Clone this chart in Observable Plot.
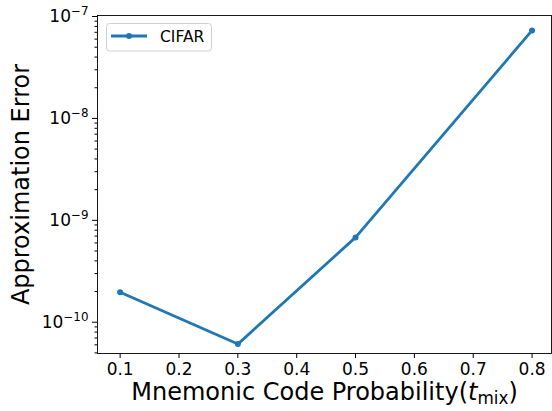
<!DOCTYPE html>
<html>
<head>
<meta charset="utf-8">
<script src="https://cdn.jsdelivr.net/npm/d3@7"></script>
<script src="https://cdn.jsdelivr.net/npm/@observablehq/plot@0.6"></script>
<style>
  html, body { margin: 0; padding: 0; background: #fff; }
  #chart svg { font-family: "DejaVu Sans", sans-serif; }
</style>
</head>
<body>
<div id="chart"></div>
<script>
// Data
const tmix = [0.1, 0.3, 0.5, 0.8];
const approxError = [1.97e-10, 6.1e-11, 6.8e-10, 7.3e-8];
const seriesName = "CIFAR";
const xTicks = [0.1, 0.2, 0.3, 0.4, 0.5, 0.6, 0.7, 0.8];
const yMajorTicks = [1e-10, 1e-9, 1e-8, 1e-7];
const xTitle = "Mnemonic Code Probability";
const yTitle = "Approximation Error";

const data = tmix.map((x, i) => ({x, y: approxError[i]}));

// minor log ticks (axis decoration)
const yMinorTicks = [];
for (let e = -11; e <= -7; e++) for (let m = 2; m <= 9; m++) {
  const v = m * Math.pow(10, e);
  if (v > Math.pow(10, -10.307) && v < Math.pow(10, -6.99)) yMinorTicks.push(v);
}

const color = "#1f77b4";

const plot = Plot.plot({
  width: 552,
  height: 411,
  marginLeft: 97,
  marginRight: 1,
  marginTop: 15,
  marginBottom: 58,
  style: {fontFamily: "DejaVu Sans, sans-serif", fontSize: "17px", color: "#000", background: "#fff"},
  x: {domain: [0.0615, 0.833]},
  y: {type: "log", domain: [Math.pow(10, -10.307), Math.pow(10, -6.99)]},
  marks: [
    Plot.axisX({ticks: xTicks, tickSize: 5, tickPadding: 4, tickFormat: d3.format(".1f"),
      label: xTitle, labelAnchor: "center", labelOffset: 46}),
    Plot.axisY({ticks: yMajorTicks, tickSize: 5, tickPadding: 4,
      tickFormat: d => "10^" + "\u2212" + Math.round(-Math.log10(d)),
      label: yTitle, labelAnchor: "center", labelOffset: 86}),
    Plot.axisY({ticks: yMinorTicks, tickSize: 2.5, tickFormat: () => "", label: null}),
    Plot.frame({stroke: "#000", strokeWidth: 0.9}),
    Plot.line(data, {x: "x", y: "y", stroke: color, strokeWidth: 2.8}),
    Plot.dot(data, {x: "x", y: "y", fill: color, r: 3})
  ]
});

document.getElementById("chart").appendChild(plot);

const ns = "http://www.w3.org/2000/svg";
const svg = plot.tagName === "svg" ? plot : plot.querySelector("svg");

// tick label sizes
svg.querySelectorAll('g[aria-label="x-axis tick label"], g[aria-label="y-axis tick label"]').forEach(g => {
  g.setAttribute("font-size", "17px");
  g.style.fontSize = "17px";
});

// superscript y tick labels
svg.querySelectorAll('g[aria-label="y-axis tick label"] text').forEach(t => {
  const parts = t.textContent.split("^");
  if (parts.length < 2) return;
  t.textContent = parts[0];
  const ts = document.createElementNS(ns, "tspan");
  ts.setAttribute("dy", "-0.55em");
  ts.setAttribute("font-size", "0.7em");
  ts.textContent = parts[1];
  t.appendChild(ts);
});

// axis titles
svg.querySelectorAll('g[aria-label="x-axis label"]').forEach(g => { g.setAttribute("font-size", "24px"); g.style.fontSize = "24px"; });
svg.querySelectorAll('g[aria-label="y-axis label"]').forEach(g => { g.setAttribute("font-size", "24px"); g.style.fontSize = "24px"; });
svg.querySelectorAll('g[aria-label="x-axis label"] text').forEach(t => {
  t.textContent = xTitle + "(";
  const it = document.createElementNS(ns, "tspan");
  it.setAttribute("font-style", "italic");
  it.textContent = "t";
  t.appendChild(it);
  const sub = document.createElementNS(ns, "tspan");
  sub.setAttribute("font-size", "0.7em");
  sub.setAttribute("dy", "0.25em");
  sub.textContent = "mix";
  t.appendChild(sub);
  const cl = document.createElementNS(ns, "tspan");
  cl.setAttribute("dy", "-0.175em");
  cl.textContent = ")";
  t.appendChild(cl);
});
svg.querySelectorAll('g[aria-label="y-axis label"] text').forEach(t => {
  t.textContent = yTitle;
});

// legend (inside plot, upper left)
const lg = document.createElementNS(ns, "g");
lg.setAttribute("aria-label", "legend");
lg.innerHTML = `
  <rect x="106.5" y="23.5" width="105" height="27.5" rx="3" ry="3" fill="#fff" fill-opacity="0.8" stroke="#d0d0d0" stroke-width="1"></rect>
  <line x1="111" y1="36" x2="147" y2="36" stroke="${color}" stroke-width="2.8"></line>
  <circle cx="129" cy="36" r="3" fill="${color}"></circle>
  <text x="160" y="41.5" font-size="15.5px" text-anchor="start" fill="#000">${seriesName}</text>`;
svg.appendChild(lg);
</script>
</body>
</html>
